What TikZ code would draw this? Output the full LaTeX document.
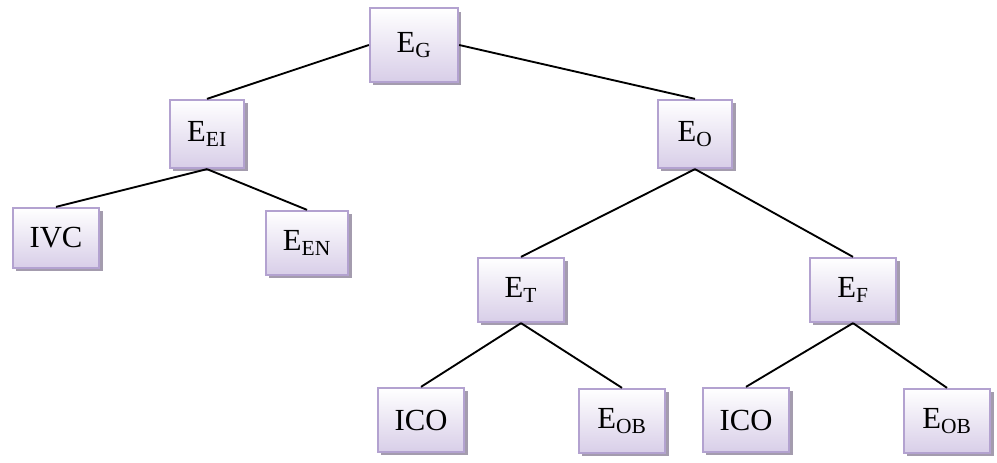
\documentclass[tikz,border=0pt]{standalone}
\usepackage{fontspec}
\setmainfont{Liberation Serif}
\usepackage{tikz}
\usetikzlibrary{shadows}

\definecolor{boxline}{HTML}{B3A2D0}
\definecolor{boxfill}{HTML}{D8CEE8}
\definecolor{boxshade}{HTML}{A49CAE}

\begin{document}
\begin{tikzpicture}[
  x=0.75pt, y=-0.75pt,
  blk/.style={draw=boxline, line width=1.7pt, top color=white, bottom color=boxfill,
    minimum width=65pt, minimum height=48pt, inner sep=0pt,
    font=\fontsize{23}{26}\selectfont,
    drop shadow={shadow xshift=2.5pt, shadow yshift=-2.5pt, fill=boxshade, opacity=1}},
  edge/.style={line width=1.4pt}
]
\useasboundingbox (0,0) rectangle (997,463);

% root and first level
\node[blk, minimum width=66pt, minimum height=55pt] (eg)  at (414,45)  {E\textsubscript{G}};
\node[blk, minimum width=56pt, minimum height=51pt] (eei) at (207,134) {E\textsubscript{EI}};
\node[blk, minimum width=56pt, minimum height=51pt] (eo)  at (695,134) {E\textsubscript{O}};

% second level
\node[blk, minimum height=45pt] (ivc) at (56,238)  {IVC};
\node[blk, minimum width=62pt]  (een) at (307,243) {E\textsubscript{EN}};
\node[blk]                      (et)  at (521,290) {E\textsubscript{T}};
\node[blk]                      (ef)  at (853,290) {E\textsubscript{F}};

% leaves
\node[blk] (ico1) at (421,420) {ICO};
\node[blk] (eob1) at (622,421) {E\textsubscript{OB}};
\node[blk] (ico2) at (746,420) {ICO};
\node[blk] (eob2) at (947,421) {E\textsubscript{OB}};

% tree edges
\draw[edge] (eg.west) -- (eei.north);
\draw[edge] (eg.east) -- (eo.north);
\foreach \p/\c in {eei/ivc, eei/een, eo/et, eo/ef, et/ico1, et/eob1, ef/ico2, ef/eob2}
  \draw[edge] (\p.south) -- (\c.north);
\end{tikzpicture}
\end{document}
